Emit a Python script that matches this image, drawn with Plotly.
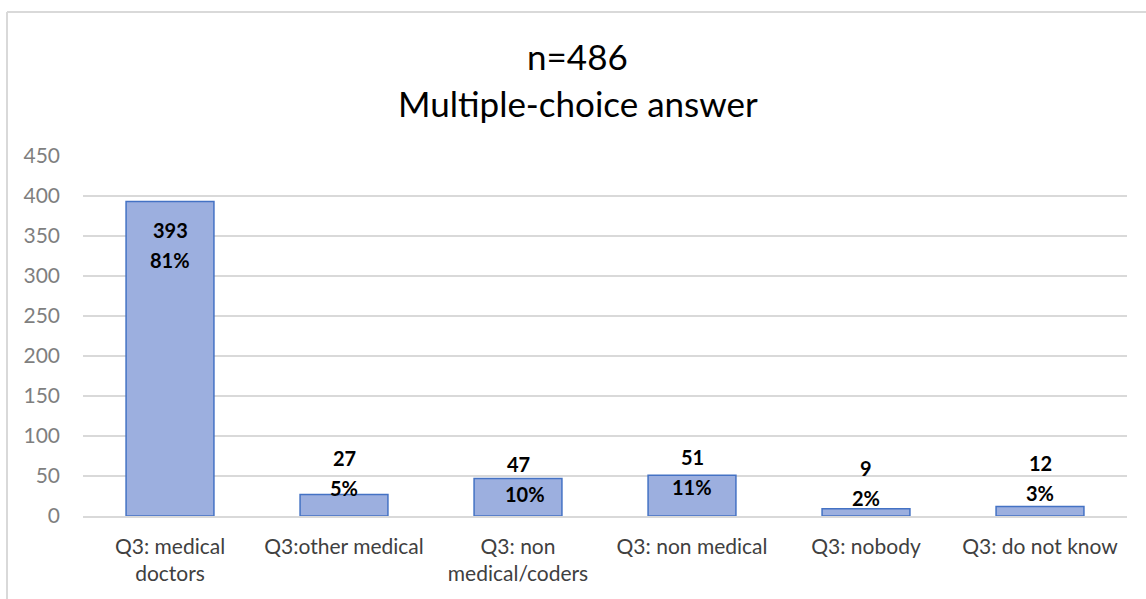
import plotly.graph_objects as go

categories = ["Q3: medical<br>doctors", "Q3:other medical", "Q3: non<br>medical/coders",
              "Q3: non medical", "Q3: nobody", "Q3: do not know"]
counts = [393, 27, 47, 51, 9, 12]
percents = ["81%", "5%", "10%", "11%", "2%", "3%"]
y_ticks = [0, 50, 100, 150, 200, 250, 300, 350, 400, 450]

# label placement (pixel shifts from bar top) - style only
label_shift = [-43, 21, -1, 3, 26, 28]
pct_xshift = [0, 0, 7, 0, 0, 0]

FONT = "Lato"

fig = go.Figure()
fig.add_trace(go.Bar(
    x=categories, y=counts,
    marker=dict(color="#9CAFDF", line=dict(color="#4472C4", width=1.5)),
    width=0.505,
    hoverinfo="x+y",
))

for cat, v, p, s, xs in zip(categories, counts, percents, label_shift, pct_xshift):
    fig.add_annotation(x=cat, y=v, text=f"<b>{v}</b>", showarrow=False,
                       yanchor="middle", yshift=s + 15,
                       font=dict(family=FONT, size=20, color="#000000"))
    fig.add_annotation(x=cat, y=v, text=f"<b>{p}</b>", showarrow=False,
                       yanchor="middle", yshift=s - 15, xshift=xs,
                       font=dict(family=FONT, size=20, color="#000000"))

# Title as two lines
fig.add_annotation(xref="paper", yref="paper", x=0.474, y=1.277, text="n=486",
                   showarrow=False, yanchor="middle",
                   font=dict(family=FONT, size=35, color="#000000"))
fig.add_annotation(xref="paper", yref="paper", x=0.474, y=1.146, text="Multiple-choice answer",
                   showarrow=False, yanchor="middle",
                   font=dict(family=FONT, size=35, color="#000000"))

# outer chart border (top and left)
fig.add_shape(type="line", xref="paper", yref="paper", x0=-0.0728, x1=1.1, y0=1.4, y1=1.4,
              line=dict(color="#D9D9D9", width=2))
fig.add_shape(type="line", xref="paper", yref="paper", x0=-0.0728, x1=-0.0728, y0=1.4, y1=-0.3,
              line=dict(color="#D9D9D9", width=2))

fig.update_layout(
    width=1146, height=599,
    margin=dict(l=83, r=19, t=156, b=83),
    paper_bgcolor="white", plot_bgcolor="white",
    showlegend=False,
    bargap=0.495,
    font=dict(family=FONT),
)
fig.update_xaxes(
    showgrid=False, showline=True, linecolor="#D9D9D9", linewidth=1.5,
    tickfont=dict(family=FONT, size=21, color="#404040"),
    ticks="", ticklabelstandoff=11,
)
fig.update_yaxes(
    range=[0, 450], tickvals=y_ticks, showgrid=True, gridcolor="#D9D9D9", gridwidth=1.5,
    zeroline=False, showline=False,
    tickfont=dict(family=FONT, size=21, color="#7F7F7F"),
    ticks="", ticklabelstandoff=22,
)

fig.write_html("out.html", config={"displayModeBar": False},
               post_script="document.body.style.margin='0';")
